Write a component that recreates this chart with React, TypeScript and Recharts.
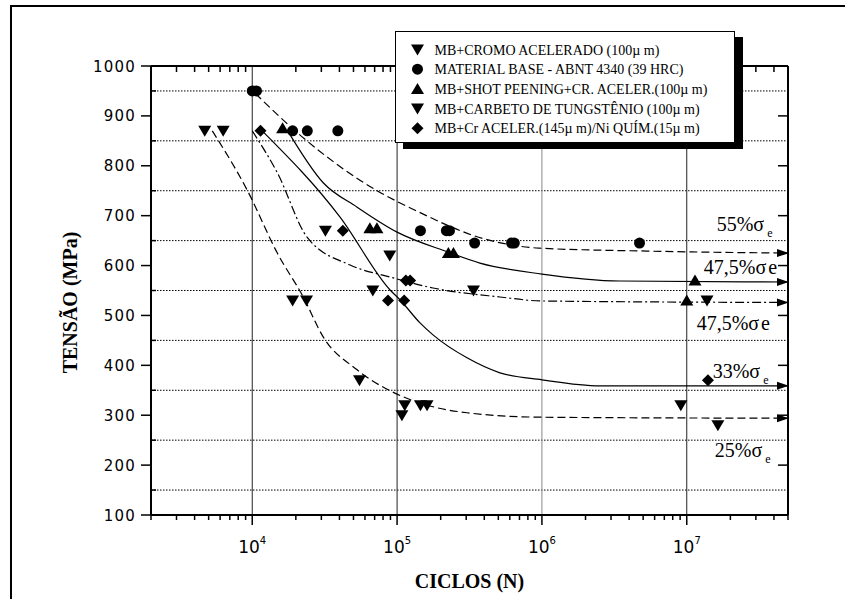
import { ComposedChart, Line, ReferenceDot, ReferenceLine, Scatter, XAxis, YAxis } from 'recharts';

// ensaios de fadiga: ciclos (N) x tensão (MPa)
const cromoAcelerado = [
  { x: 6300, y: 870 },
  { x: 32000, y: 670 },
  { x: 68000, y: 550 },
  { x: 89000, y: 620 },
  { x: 337000, y: 550 },
  { x: 13800000, y: 530 },
];
const materialBase = [
  { x: 10000, y: 950 },
  { x: 10700, y: 950 },
  { x: 19000, y: 870 },
  { x: 24000, y: 870 },
  { x: 39000, y: 870 },
  { x: 145000, y: 670 },
  { x: 219000, y: 670 },
  { x: 230000, y: 670 },
  { x: 343000, y: 645 },
  { x: 617000, y: 645 },
  { x: 645000, y: 645 },
  { x: 4720000, y: 645 },
];
const shotPeening = [
  { x: 16200, y: 875 },
  { x: 64900, y: 675 },
  { x: 72600, y: 675 },
  { x: 226000, y: 625 },
  { x: 245000, y: 625 },
  { x: 10000000, y: 530 },
  { x: 11400000, y: 570 },
];
const carbeto = [
  { x: 4700, y: 870 },
  { x: 19000, y: 530 },
  { x: 23700, y: 530 },
  { x: 55000, y: 370 },
  { x: 108000, y: 300 },
  { x: 113000, y: 320 },
  { x: 145000, y: 320 },
  { x: 161000, y: 320 },
  { x: 9100000, y: 320 },
  { x: 16400000, y: 280 },
];
const crNi = [
  { x: 11400, y: 870 },
  { x: 42200, y: 670 },
  { x: 86600, y: 530 },
  { x: 112000, y: 530 },
  { x: 115000, y: 570 },
  { x: 123000, y: 570 },
  { x: 14000000, y: 370 },
];

const curve55 = [
  { x: 10500, y: 945 },
  { x: 22100, y: 858 },
  { x: 72800, y: 750 },
  { x: 133000, y: 711 },
  { x: 405000, y: 653 },
  { x: 953000, y: 635 },
  { x: 5300000, y: 629 },
  { x: 50000000, y: 625 },
];
const curve475a = [
  { x: 17400, y: 872 },
  { x: 30900, y: 766 },
  { x: 53000, y: 717 },
  { x: 100000, y: 667 },
  { x: 225000, y: 627 },
  { x: 373000, y: 605 },
  { x: 1000000, y: 583 },
  { x: 3450000, y: 569 },
  { x: 50000000, y: 567 },
];
const curve475b = [
  { x: 10000, y: 870 },
  { x: 14900, y: 786 },
  { x: 23900, y: 657 },
  { x: 47400, y: 601 },
  { x: 89500, y: 577 },
  { x: 177000, y: 555 },
  { x: 513000, y: 537 },
  { x: 1000000, y: 529 },
  { x: 50000000, y: 526 },
];
const curve33 = [
  { x: 11900, y: 868 },
  { x: 40400, y: 697 },
  { x: 89500, y: 551 },
  { x: 105000, y: 531 },
  { x: 144000, y: 485 },
  { x: 177000, y: 461 },
  { x: 304000, y: 415 },
  { x: 513000, y: 385 },
  { x: 1000000, y: 371 },
  { x: 2510000, y: 359 },
  { x: 50000000, y: 359 },
];
const curve25 = [
  { x: 5300, y: 870 },
  { x: 9240, y: 751 },
  { x: 14900, y: 625 },
  { x: 22500, y: 537 },
  { x: 30900, y: 457 },
  { x: 53000, y: 391 },
  { x: 110000, y: 337 },
  { x: 177000, y: 317 },
  { x: 304000, y: 305 },
  { x: 1000000, y: 296 },
  { x: 50000000, y: 294 },
];

const decades = [1e4, 1e5, 1e6, 1e7];
const decadeLabels = ['4', '5', '6', '7'];
const minorX = [
  2e3, 3e3, 4e3, 5e3, 6e3, 7e3, 8e3, 9e3,
  2e4, 3e4, 4e4, 5e4, 6e4, 7e4, 8e4, 9e4,
  2e5, 3e5, 4e5, 5e5, 6e5, 7e5, 8e5, 9e5,
  2e6, 3e6, 4e6, 5e6, 6e6, 7e6, 8e6, 9e6,
  2e7, 3e7, 4e7, 5e7,
];
const yMajor = [100, 200, 300, 400, 500, 600, 700, 800, 900, 1000];
const yMinor = [150, 250, 350, 450, 550, 650, 750, 850, 950];

const annotations = [
  { x: 1.61e7, y: 669, main: '55%σ', sub: 'e' },
  { x: 1.31e7, y: 583, main: '47,5%σ', tail: 'e' },
  { x: 1.17e7, y: 471, main: '47,5%σ', tail: 'e' },
  { x: 1.51e7, y: 375, main: '33%σ', sub: 'e' },
  { x: 1.56e7, y: 216, main: '25%σ', sub: 'e' },
];

const legendItems = [
  { name: 'MB+CROMO ACELERADO (100µ m)', shape: 'down' },
  { name: 'MATERIAL BASE - ABNT 4340 (39 HRC)', shape: 'circle' },
  { name: 'MB+SHOT PEENING+CR. ACELER.(100µ m)', shape: 'up' },
  { name: 'MB+CARBETO DE TUNGSTÊNIO (100µ m)', shape: 'down' },
  { name: 'MB+Cr ACELER.(145µ m)/Ni QUÍM.(15µ m)', shape: 'diamond' },
];

const serif = '"Liberation Serif", "Times New Roman", serif';
const sans = '"DejaVu Sans", Arial, sans-serif';

function marker(shape: string, cx: number, cy: number, s = 1) {
  if (shape === 'circle') return <circle cx={cx} cy={cy} r={5.5 * s} fill="#000" />;
  if (shape === 'up')
    return <polygon points={`${cx - 6.5 * s},${cy + 5 * s} ${cx + 6.5 * s},${cy + 5 * s} ${cx},${cy - 6 * s}`} fill="#000" />;
  if (shape === 'diamond')
    return <polygon points={`${cx},${cy - 6 * s} ${cx + 6 * s},${cy} ${cx},${cy + 6 * s} ${cx - 6 * s},${cy}`} fill="#000" />;
  return <polygon points={`${cx - 6.5 * s},${cy - 5 * s} ${cx + 6.5 * s},${cy - 5 * s} ${cx},${cy + 6 * s}`} fill="#000" />;
}

const shapeOf = (shape: string) => (p: any) => marker(shape, p.cx, p.cy);

const arrowDot = (n: number) => (p: any) => {
  if (p.index !== n - 1) return <g key={p.index} />;
  const { cx, cy } = p;
  return <polygon key={p.index} points={`${cx + 1},${cy} ${cx - 11},${cy - 4} ${cx - 11},${cy + 4}`} fill="#000" />;
};

const BottomTick = ({ x, y, payload }: any) => {
  const i = decades.indexOf(payload.value);
  if (i < 0) return <line x1={x} x2={x} y1={y} y2={y + 5} stroke="#000" strokeWidth={1.5} />;
  return (
    <g>
      <line x1={x} x2={x} y1={y} y2={y + 10} stroke="#000" strokeWidth={1.5} />
      <text x={x} y={y + 38} textAnchor="middle" fontFamily={sans} fontSize={17} fill="#000">
        10<tspan dy={-9} fontSize={10}>{decadeLabels[i]}</tspan>
      </text>
    </g>
  );
};

const TopTick = ({ x, y, payload }: any) => {
  if (decades.includes(payload.value)) return <g />;
  return <line x1={x} x2={x} y1={y} y2={y + 6} stroke="#000" strokeWidth={1.5} />;
};

const LeftTick = ({ x, y, payload }: any) => {
  if (!yMajor.includes(payload.value)) return <line x1={x} x2={x + 5} y1={y} y2={y} stroke="#000" strokeWidth={1.5} />;
  return (
    <g>
      <line x1={x - 10} x2={x} y1={y} y2={y} stroke="#000" strokeWidth={1.5} />
      <text x={x - 15} y={y + 5.5} textAnchor="end" fontFamily={sans} fontSize={15} letterSpacing={1.2} fill="#000">
        {payload.value}
      </text>
    </g>
  );
};

const RightTick = ({ x, y }: any) => <line x1={x - 10} x2={x} y1={y} y2={y} stroke="#000" strokeWidth={1.5} />;

const annoLabel = (a: any) => (p: any) => {
  const { x, y } = p.viewBox;
  return (
    <text x={x} y={y} fontFamily={serif} fontSize={20} fill="#000">
      {a.main}
      {a.tail ? <tspan dx={2}>{a.tail}</tspan> : null}
      {a.sub ? <tspan dx={3} dy={6} fontSize={12}>{a.sub}</tspan> : null}
    </text>
  );
};

const curves = [
  { data: curve55, dash: '8 4' },
  { data: curve475a, dash: undefined },
  { data: curve475b, dash: '9 3 2 3' },
  { data: curve33, dash: undefined },
  { data: curve25, dash: '8 4' },
];

const series = [
  { data: cromoAcelerado, shape: 'down' },
  { data: materialBase, shape: 'circle' },
  { data: shotPeening, shape: 'up' },
  { data: carbeto, shape: 'down' },
  { data: crNi, shape: 'diamond' },
];

export default function App() {
  return (
    <div style={{ position: 'absolute', left: 0, top: 0, width: 845, height: 599, background: '#fff' }}>
      <div
        style={{
          position: 'absolute',
          left: 10,
          top: 5,
          width: 835,
          height: 594,
          borderLeft: '2px solid #000',
          borderTop: '2px solid #000',
        }}
      />
      <ComposedChart width={845} height={599} margin={{ top: 56, right: 47, bottom: 54, left: 91 }}>
        <XAxis
          xAxisId="b"
          dataKey="x"
          type="number"
          scale="log"
          domain={[2000, 5e7]}
          allowDataOverflow
          ticks={[...minorX, ...decades]}
          interval={0}
          tick={BottomTick}
          tickLine={false}
          tickSize={0}
          tickMargin={0}
          height={30}
          axisLine={{ stroke: '#000', strokeWidth: 2 }}
          label={{
            content: (p: any) => (
              <text
                x={p.viewBox.x + p.viewBox.width / 2}
                y={p.viewBox.y + 73}
                textAnchor="middle"
                fontFamily={serif}
                fontWeight="bold"
                fontSize={20}
                fill="#000"
              >
                CICLOS (N)
              </text>
            ),
          }}
        />
        <XAxis
          xAxisId="t"
          orientation="top"
          dataKey="x"
          type="number"
          scale="log"
          domain={[2000, 5e7]}
          allowDataOverflow
          ticks={[...minorX, ...decades]}
          interval={0}
          tick={TopTick}
          tickLine={false}
          tickSize={0}
          tickMargin={0}
          height={10}
          axisLine={{ stroke: '#000', strokeWidth: 2 }}
        />
        <YAxis
          yAxisId="l"
          dataKey="y"
          type="number"
          domain={[100, 1000]}
          allowDataOverflow
          ticks={[...yMajor, ...yMinor]}
          interval={0}
          tick={LeftTick}
          tickLine={false}
          tickSize={0}
          tickMargin={0}
          width={60}
          axisLine={{ stroke: '#000', strokeWidth: 2 }}
          label={{
            content: (p: any) => {
              const cx = p.viewBox.x - 21;
              const cy = p.viewBox.y + p.viewBox.height / 2 + 12;
              return (
                <text
                  x={cx}
                  y={cy}
                  transform={`rotate(-90 ${cx} ${cy})`}
                  textAnchor="middle"
                  dominantBaseline="central"
                  fontFamily={serif}
                  fontWeight="bold"
                  fontSize={20}
                  fill="#000"
                >
                  TENSÃO (MPa)
                </text>
              );
            },
          }}
        />
        <YAxis
          yAxisId="r"
          orientation="right"
          dataKey="y"
          type="number"
          domain={[100, 1000]}
          allowDataOverflow
          ticks={yMajor}
          interval={0}
          tick={RightTick}
          tickLine={false}
          tickSize={0}
          tickMargin={0}
          width={10}
          axisLine={{ stroke: '#000', strokeWidth: 2 }}
        />

        {yMinor.map((v) => (
          <ReferenceLine key={`h${v}`} xAxisId="b" yAxisId="l" y={v} stroke="#000" strokeWidth={1} strokeDasharray="1.5 1.5" />
        ))}
        {decades.map((v) => (
          <ReferenceLine key={`v${v}`} xAxisId="b" yAxisId="l" x={v} stroke={v === 1e6 ? '#888' : '#222'} strokeWidth={1} />
        ))}

        {curves.map((c, i) => (
          <Line
            key={`c${i}`}
            xAxisId="b"
            yAxisId="l"
            data={c.data}
            dataKey="y"
            type="monotone"
            stroke="#000"
            strokeWidth={1.2}
            strokeDasharray={c.dash}
            dot={arrowDot(c.data.length)}
            activeDot={false}
            isAnimationActive={false}
          />
        ))}

        {series.map((s, i) => (
          <Scatter
            key={`s${i}`}
            xAxisId="b"
            yAxisId="l"
            data={s.data}
            dataKey="y"
            shape={shapeOf(s.shape)}
            isAnimationActive={false}
          />
        ))}

        {annotations.map((a, i) => (
          <ReferenceDot
            key={`a${i}`}
            xAxisId="b"
            yAxisId="l"
            x={a.x}
            y={a.y}
            r={0}
            fill="none"
            stroke="none"
            ifOverflow="visible"
            label={annoLabel(a)}
          />
        ))}
      </ComposedChart>

      <div
        style={{
          position: 'absolute',
          left: 395,
          top: 31,
          width: 340,
          height: 112,
          boxSizing: 'border-box',
          border: '1.5px solid #000',
          background: '#fff',
          boxShadow: '8px 6px 0 #000',
        }}
      >
        <svg width={337} height={109} style={{ display: 'block' }}>
          {legendItems.map((it, i) => {
            const cy = 17.5 + i * 19.7;
            return (
              <g key={it.name}>
                {marker(it.shape, 21.5, cy, 1)}
                <text x={38.5} y={cy + 5} fontFamily={serif} fontSize={14} fill="#000">
                  {it.name}
                </text>
              </g>
            );
          })}
        </svg>
      </div>
    </div>
  );
}
